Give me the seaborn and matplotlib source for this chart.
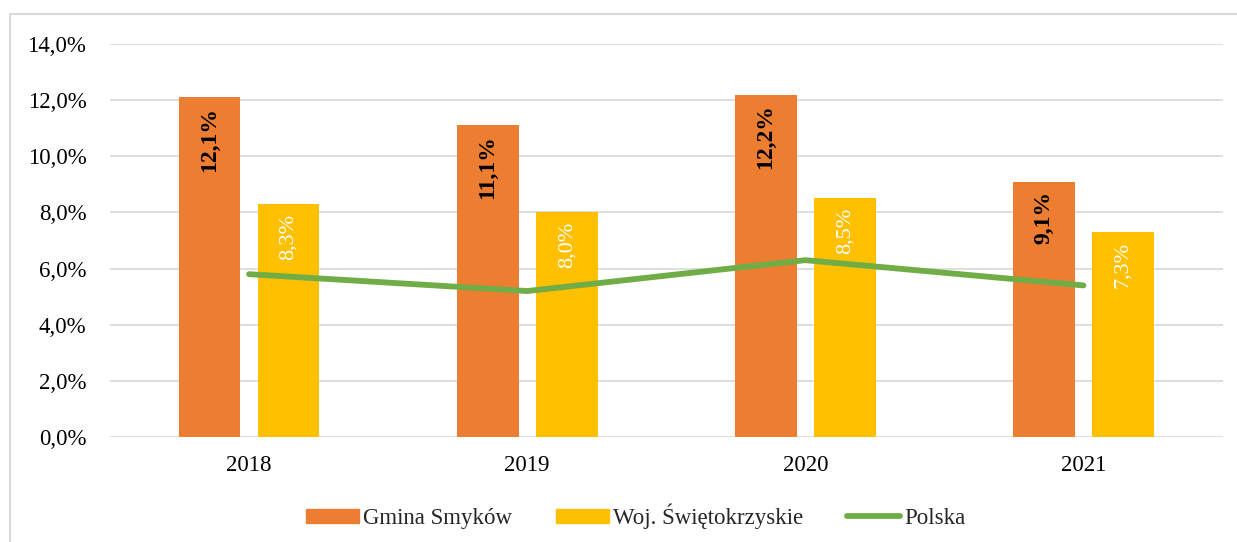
import numpy as np
import pandas as pd
import matplotlib
matplotlib.use("Agg")
import matplotlib.pyplot as plt
import matplotlib.patches as mpatches
from matplotlib.ticker import FuncFormatter, MultipleLocator
import seaborn as sns

# ---- data ----
years = ["2018", "2019", "2020", "2021"]
gmina = [12.1, 11.1, 12.2, 9.1]
woj = [8.3, 8.0, 8.5, 7.3]
polska = [5.8, 5.2, 6.3, 5.4]
series_names = ["Gmina Smyków", "Woj. Świętokrzyskie", "Polska"]

colors = {"Gmina Smyków": "#ED7D31", "Woj. Świętokrzyskie": "#FFC000", "Polska": "#70AD47"}

sns.set_theme(style="white")
plt.rcParams["font.family"] = ["Liberation Serif", "DejaVu Serif"]

df_bars = pd.DataFrame({
    "year": years * 2,
    "value": gmina + woj,
    "series": [series_names[0]] * 4 + [series_names[1]] * 4,
})
df_line = pd.DataFrame({"pos": np.arange(len(years)), "value": polska})

fig = plt.figure(figsize=(12.37, 5.42), dpi=100)
ax = fig.add_axes([110 / 1237, 1 - 437 / 542, (1222.5 - 110) / 1237, (437 - 44) / 542])

sns.barplot(data=df_bars, x="year", y="value", hue="series", order=years,
            hue_order=series_names[:2], palette=colors, saturation=1,
            width=0.568, gap=0.218, linewidth=0, legend=False, ax=ax, zorder=2)
sns.lineplot(data=df_line, x="pos", y="value", color=colors["Polska"], linewidth=4.2,
             ax=ax, zorder=3, legend=False)
ax.lines[-1].set_solid_capstyle("round")

ax.set_xlim(-0.5, 3.5)
ax.set_ylim(0, 14)
ax.yaxis.set_major_locator(MultipleLocator(2))
ax.yaxis.set_major_formatter(FuncFormatter(lambda v, p: f"{v:.1f}%".replace(".", ",")))
ax.grid(axis="y", color="#D9D9D9", linewidth=1.2)
ax.grid(axis="x", visible=False)
ax.set_axisbelow(True)
for s in ax.spines.values():
    s.set_visible(False)
ax.set_xlabel("")
ax.set_ylabel("")
ax.tick_params(axis="both", length=0, labelsize=16.5, colors="black")
ax.tick_params(axis="y", pad=17)
ax.tick_params(axis="x", pad=13)

# value labels inside bars, rotated
label_styles = [dict(color="black", fontweight="bold", off=-7, size=17),
                dict(color="white", fontweight="normal", off=-7, size=16)]
for cont, style in zip(ax.containers[:2], label_styles):
    for bar in cont:
        h = bar.get_height()
        xc = bar.get_x() + bar.get_width() / 2
        ax.annotate(f"{h:.1f}%".replace(".", ","), (xc, h), xytext=(0, style["off"]),
                    textcoords="offset points", rotation=90, ha="center", va="top",
                    fontsize=style["size"], color=style["color"],
                    fontweight=style["fontweight"], zorder=4)

# legend
handles = [mpatches.Patch(color=colors[series_names[0]]),
           mpatches.Patch(color=colors[series_names[1]]),
           plt.Line2D([], [], color=colors["Polska"], linewidth=4.2, solid_capstyle="round")]
fig.legend(handles, series_names, loc="center", bbox_to_anchor=(0.514, 0.048), ncol=3,
           frameon=False, fontsize=16.5, handlelength=2.3, handleheight=0.55,
           handletextpad=0.2, columnspacing=1.9)

# outer chart frame
fig.patches.append(mpatches.Rectangle((10 / 1237, -0.1), 2, 1 - 14 / 542 + 0.1,
                                      transform=fig.transFigure, fill=False,
                                      edgecolor="#D9D9D9", linewidth=1.5))

fig.savefig("out.png", dpi=100)
